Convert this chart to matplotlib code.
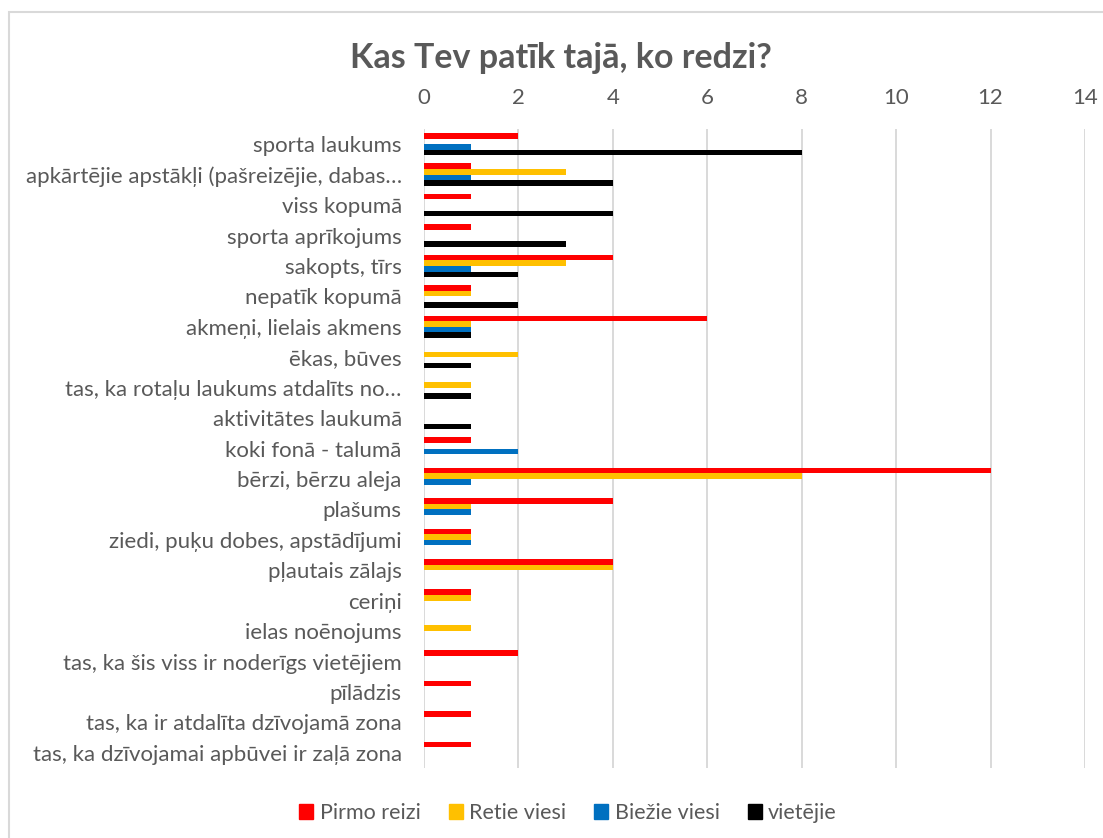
import numpy as np
import matplotlib.pyplot as plt
from matplotlib.patches import Rectangle, Patch

plt.rcParams['font.family'] = ['Lato', 'DejaVu Sans']

categories = [
    "sporta laukums",
    "apkārtējie apstākļi (pašreizējie, dabas…",
    "viss kopumā",
    "sporta aprīkojums",
    "sakopts, tīrs",
    "nepatīk kopumā",
    "akmeņi, lielais akmens",
    "ēkas, būves",
    "tas, ka rotaļu laukums atdalīts no…",
    "aktivitātes laukumā",
    "koki fonā - talumā",
    "bērzi, bērzu aleja",
    "plašums",
    "ziedi, puķu dobes, apstādījumi",
    "pļautais zālajs",
    "ceriņi",
    "ielas noēnojums",
    "tas, ka šis viss ir noderīgs vietējiem",
    "pīlādzis",
    "tas, ka ir atdalīta dzīvojamā zona",
    "tas, ka dzīvojamai apbūvei ir zaļā zona",
]
pirmo_reizi = [2, 1, 1, 1, 4, 1, 6, 0, 0, 0, 1, 12, 4, 1, 4, 1, 0, 2, 1, 1, 1]
retie_viesi = [0, 3, 0, 0, 3, 1, 1, 2, 1, 0, 0, 8, 1, 1, 4, 1, 1, 0, 0, 0, 0]
biezie_viesi = [1, 1, 0, 0, 1, 0, 1, 0, 0, 0, 2, 1, 1, 1, 0, 0, 0, 0, 0, 0, 0]
vietejie = [8, 4, 4, 3, 2, 2, 1, 1, 1, 1, 0, 0, 0, 0, 0, 0, 0, 0, 0, 0, 0]

series = [("Pirmo reizi", pirmo_reizi, "#ff0000"),
          ("Retie viesi", retie_viesi, "#ffc000"),
          ("Biežie viesi", biezie_viesi, "#0070c0"),
          ("vietējie", vietejie, "#000000")]

txt = "#595959"
W, H = 1103, 838
fig = plt.figure(figsize=(W / 100, H / 100), dpi=100)
ax = fig.add_axes([424 / W, 1 - 768 / H, (1085 - 424) / W, (768 - 129) / H])

# chart border
fig.patches.append(Rectangle((9 / W, -0.05), 1.1, 1 - 12 / H + 0.05, transform=fig.transFigure,
                             fill=False, edgecolor="#d9d9d9", lw=1.5))

y = np.arange(len(categories))
h = 0.185
for i, (name, vals, col) in enumerate(series):
    ax.barh(y + (i - 1.5) * h, vals, height=h, color=col, label=name)

ax.set_ylim(len(categories) - 0.5, -0.5)
ax.set_xlim(0, 14)
ax.set_xticks(range(0, 15, 2))
ax.xaxis.tick_top()
ax.set_yticks(y)
ax.set_yticklabels(categories)
ax.tick_params(axis="x", length=0, pad=15, labelsize=16, labelcolor=txt)
ax.tick_params(axis="y", length=0, pad=16, labelsize=16, labelcolor=txt)
ax.grid(axis="x", color="#d9d9d9", lw=1.4)
ax.set_axisbelow(True)
for s in ax.spines.values():
    s.set_visible(False)

fig.text(561 / W, 1 - 58 / H, "Kas Tev patīk tajā, ko redzi?", ha="center", va="center",
         fontsize=24.5, fontweight="bold", color=txt)

handles = [Patch(color=c, label=n) for n, v, c in series]
fig.legend(handles=handles, loc="center", bbox_to_anchor=(568 / W, 1 - 813 / H), ncol=4,
           frameon=False, fontsize=15.5, labelcolor=txt, handlelength=0.65, handleheight=0.65,
           handletextpad=0.3, columnspacing=1.3)

fig.savefig("out.png", dpi=100)
